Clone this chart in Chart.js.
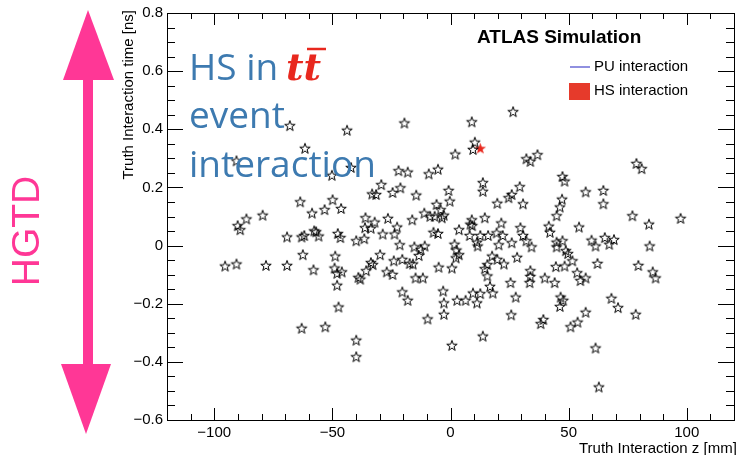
<!DOCTYPE html>
<html>
<head>
<meta charset="utf-8">
<script src="https://cdn.jsdelivr.net/npm/chart.js@4.4.1/dist/chart.umd.min.js"></script>
<style>
  body { margin: 0; overflow: hidden; background: #fff; }
</style>
</head>
<body>
<canvas id="vtx" width="741" height="455"></canvas>
<script>
// pile-up vertices (z in mm, t in ns)
const puZ = [
  -68.0, -43.8, -19.5, -61.6, -90.6, -42.1, -50.2, -22.0, -18.1, -9.2,
  -5.3, -29.3, -33.2, -31.5, -24.5, -21.2, -14.5, -63.6, -49.9, -53.3,
  -46.3, -58.6, -79.5, -86.4, -90.1, -89.0, -36.0, -32.1, -36.2, -33.7,
  -26.5, -22.6, -28.7, -23.7, -16.2, -11.1, -5.9, -4.2, -2.8, -6.7,
  -8.6, -3.6, -57.7, -56.9, -61.9, -63.0, -69.2, -55.8, -47.7, -46.6,
  -39.9, -36.5, -7.2, -5.3, -21.5, -15.3, -12.6, -10.9, -13.4, -62.5,
  -48.8, -29.8, -95.4, -90.6, -78.1, -69.2, -58.0, -49.1, -48.0, -46.0,
  -48.0, -33.7, -32.9, -39.0, -38.2, -35.7, -27.0, -24.5, -24.0, -20.4,
  -17.3, -15.9, -14.8, -11.7, -5.0, -20.4, -18.1, -3.1, -2.8, -2.8,
  -9.7, -47.4, -63.0, -53.0, -39.9, -39.9,
  26.5, 9.0, 10.3, 9.5, 2.0, 32.1, 33.8, 36.8, 78.7, 80.9,
  47.4, 48.3, 13.7, 13.7, -0.8, -0.3, 29.3, 25.9, 24.6, 30.7,
  19.8, 57.2, 64.7, 64.7, 47.2, 46.3, 44.9, 77.0, 84.0, 97.4,
  54.4, 41.6, 42.1, 14.5, 9.0, 8.4, 9.2, 3.6, 8.1, 12.6,
  15.9, 19.5, 21.5, 22.1, 11.2, 11.5, 20.4, 25.9, 29.6, 30.7,
  32.1, 34.3, 44.9, 47.4, 44.9, 48.8, 49.7, 59.7, 61.4, 65.3,
  67.2, 69.2, 84.3, 1.7, 2.5, 3.6, 2.3, 0.6, 17.6, 19.8,
  22.6, 15.6, 14.5, 15.6, 28.2, 16.7, 17.9, 9.5, 12.6, 11.2,
  6.4, 2.8, 25.4, 27.6, 25.7, 33.8, 33.8, 33.5, 39.9, 44.1,
  44.6, 48.3, 51.6, 53.6, 55.0, 57.2, 62.2, 79.5, 85.6, 86.8,
  46.6, 47.7, 46.3, 68.1, 70.9, 78.4, 57.2, 53.8, 50.8, 39.3,
  38.2, 13.7, 0.6, 61.4, 62.8
];
const puT = [
  0.411, 0.395, 0.420, 0.333, 0.290, 0.267, 0.240, 0.256, 0.251, 0.245,
  0.261, 0.208, 0.176, 0.174, 0.181, 0.197, 0.172, 0.149, 0.156, 0.122,
  0.126, 0.110, 0.103, 0.090, 0.067, 0.053, 0.094, 0.079, 0.060, 0.058,
  0.092, 0.062, 0.038, 0.038, 0.087, 0.110, 0.140, 0.122, 0.103, 0.099,
  0.099, 0.094, 0.049, 0.046, 0.033, 0.028, 0.028, 0.031, 0.040, 0.026,
  0.015, 0.022, 0.044, 0.040, 0.001, -0.006, -0.015, -0.003, -0.036, -0.033,
  -0.038, -0.033, -0.072, -0.065, -0.070, -0.070, -0.085, -0.079, -0.097, -0.092,
  -0.138, -0.060, -0.067, -0.111, -0.117, -0.088, -0.092, -0.101, -0.054, -0.049,
  -0.063, -0.065, -0.113, -0.113, -0.076, -0.161, -0.190, -0.158, -0.199, -0.238,
  -0.254, -0.213, -0.286, -0.281, -0.327, -0.384,
  0.459, 0.424, 0.354, 0.329, 0.313, 0.297, 0.288, 0.311, 0.281, 0.263,
  0.236, 0.220, 0.215, 0.185, 0.188, 0.151, 0.201, 0.174, 0.163, 0.142,
  0.144, 0.183, 0.188, 0.142, 0.158, 0.131, 0.101, 0.101, 0.072, 0.092,
  0.062, 0.065, 0.044, 0.094, 0.087, 0.072, 0.067, 0.053, 0.033, 0.033,
  0.033, 0.042, 0.076, 0.033, 0.010, -0.003, 0.001, 0.008, 0.060, 0.033,
  0.015, -0.006, 0.010, 0.015, -0.006, -0.019, -0.029, 0.017, -0.003, 0.026,
  0.003, 0.019, -0.003, 0.003, -0.017, -0.033, -0.044, -0.079, -0.038, -0.049,
  -0.065, -0.067, -0.081, -0.106, -0.042, -0.142, -0.165, -0.165, -0.167, -0.199,
  -0.190, -0.190, -0.129, -0.179, -0.240, -0.088, -0.108, -0.129, -0.113, -0.129,
  -0.074, -0.072, -0.054, -0.095, -0.122, -0.113, -0.063, -0.070, -0.092, -0.113,
  -0.179, -0.190, -0.211, -0.183, -0.215, -0.238, -0.231, -0.265, -0.281, -0.256,
  -0.270, -0.313, -0.345, -0.354, -0.488
];
// hard-scatter vertex
const hsZ = [12.6];
const hsT = [0.333];

// tick labels
const zTicks = [-100, -50, 0, 50, 100];
const tTicks = [-0.6, -0.4, -0.2, 0, 0.2, 0.4, 0.6, 0.8];

const FONT = "'Liberation Sans', Arial, sans-serif";

function makeStar(r, fill) {
  const c = document.createElement("canvas");
  const s = Math.ceil(r * 2 + 3);
  c.width = s;
  c.height = s;
  const g = c.getContext("2d");
  g.beginPath();
  for (let i = 0; i < 10; i++) {
    const rr = i % 2 === 0 ? r : r * 0.4;
    const a = -Math.PI / 2 + (i * Math.PI) / 5;
    const px = s / 2 + rr * Math.cos(a);
    const py = s / 2 + rr * Math.sin(a);
    if (i === 0) g.moveTo(px, py);
    else g.lineTo(px, py);
  }
  g.closePath();
  if (fill) {
    g.fillStyle = fill;
    g.fill();
  } else {
    g.strokeStyle = "#000";
    g.lineWidth = 1;
    g.stroke();
  }
  return c;
}

const minus = (s) => s.replace("-", "\u2212");

// ROOT-like frame, inner ticks and all the annotations
const decorations = {
  id: "decorations",
  afterDraw(chart) {
    const { ctx, chartArea: a, scales } = chart;
    const xs = scales.x, ys = scales.y;
    ctx.save();
    ctx.strokeStyle = "#000";
    ctx.lineWidth = 1;
    ctx.strokeRect(a.left + 0.5, a.top + 0.5, a.right - a.left, a.bottom - a.top);

    ctx.beginPath();
    for (let v = -110; v <= 110; v += 10) {
      const px = Math.round(xs.getPixelForValue(v)) + 0.5;
      const len = v % 50 === 0 ? 12 : 6;
      ctx.moveTo(px, a.bottom);
      ctx.lineTo(px, a.bottom - len);
      ctx.moveTo(px, a.top);
      ctx.lineTo(px, a.top + len);
    }
    for (let i = -12; i <= 16; i++) {
      const v = i * 0.05;
      const py = Math.round(ys.getPixelForValue(v)) + 0.5;
      const len = i % 4 === 0 ? 16 : 8;
      ctx.moveTo(a.left, py);
      ctx.lineTo(a.left + len, py);
      ctx.moveTo(a.right, py);
      ctx.lineTo(a.right - len, py);
    }
    ctx.stroke();

    // axis titles
    ctx.fillStyle = "#000";
    ctx.font = "15px " + FONT;
    ctx.textBaseline = "alphabetic";
    ctx.textAlign = "left";
    ctx.fillText("Truth Interaction z [mm]", 579, 453);
    ctx.save();
    ctx.translate(133, 10);
    ctx.rotate(-Math.PI / 2);
    ctx.textAlign = "right";
    ctx.fillText("Truth Interaction time [ns]", 0, 0);
    ctx.restore();

    // ATLAS label
    ctx.font = "bold 19px " + FONT;
    ctx.fillText("ATLAS Simulation", 477, 42.5);

    // legend
    ctx.font = "15px " + FONT;
    ctx.textBaseline = "middle";
    ctx.fillText("PU interaction", 594, 67);
    ctx.fillText("HS interaction", 594, 91);
    ctx.strokeStyle = "#6b6bd6";
    ctx.lineWidth = 1.5;
    ctx.beginPath();
    ctx.moveTo(570, 67);
    ctx.lineTo(590, 67);
    ctx.stroke();
    ctx.fillStyle = "#e63a2b";
    ctx.fillRect(569, 83, 21, 17);

    // "HS in tt event interaction" note
    ctx.textBaseline = "alphabetic";
    ctx.fillStyle = "#3d7ab0";
    ctx.font = "37px 'Open Sans', sans-serif";
    ctx.fillText("HS in", 189, 80);
    ctx.fillText("event", 189, 128);
    ctx.fillText("interaction", 189, 177);
    ctx.fillStyle = "#e8281e";
    ctx.font = "italic bold 38px 'DejaVu Serif', serif";
    ctx.fillText("tt", 286, 80);
    ctx.strokeStyle = "#e8281e";
    ctx.lineWidth = 2.5;
    ctx.beginPath();
    ctx.moveTo(307, 49);
    ctx.lineTo(326, 49);
    ctx.stroke();

    // HGTD arrow
    ctx.fillStyle = "#ff3796";
    ctx.fillRect(83, 76, 10, 292);
    ctx.beginPath();
    ctx.moveTo(88, 10);
    ctx.lineTo(63, 80);
    ctx.lineTo(114, 80);
    ctx.closePath();
    ctx.fill();
    ctx.beginPath();
    ctx.moveTo(61, 364);
    ctx.lineTo(111, 364);
    ctx.lineTo(86, 434);
    ctx.closePath();
    ctx.fill();
    ctx.save();
    ctx.translate(28, 231);
    ctx.rotate(-Math.PI / 2);
    ctx.font = "39px " + FONT;
    ctx.textAlign = "center";
    ctx.textBaseline = "middle";
    ctx.fillText("HGTD", 0, 0);
    ctx.restore();

    ctx.restore();
  },
};

const toXY = (zs, ts) => zs.map((z, i) => ({ x: z, y: ts[i] }));

new Chart(document.getElementById("vtx").getContext("2d"), {
  type: "scatter",
  data: {
    datasets: [
      {
        label: "PU interaction",
        data: toXY(puZ, puT),
        pointStyle: makeStar(5.5, null),
        pointRadius: 6,
      },
      {
        label: "HS interaction",
        data: toXY(hsZ, hsT),
        pointStyle: makeStar(6, "#e8281e"),
        pointRadius: 6,
      },
    ],
  },
  options: {
    responsive: false,
    animation: false,
    devicePixelRatio: 1,
    layout: { padding: { top: 10, right: 1, left: 0, bottom: 0 } },
    plugins: {
      legend: { display: false },
      tooltip: { enabled: false },
    },
    scales: {
      x: {
        type: "linear",
        min: -120,
        max: 120,
        grid: { display: false, drawTicks: false },
        border: { display: false },
        afterBuildTicks: (ax) => { ax.ticks = zTicks.map((v) => ({ value: v })); },
        afterFit: (ax) => { ax.height = 35; },
        ticks: {
          padding: 4,
          color: "#000",
          font: { family: FONT, size: 15 },
          callback: (v) => minus(String(v)),
        },
      },
      y: {
        type: "linear",
        min: -0.6,
        max: 0.8,
        grid: { display: false, drawTicks: false },
        border: { display: false },
        afterBuildTicks: (ax) => { ax.ticks = tTicks.map((v) => ({ value: v })); },
        afterFit: (ax) => { ax.width = 167; },
        ticks: {
          padding: 4,
          color: "#000",
          font: { family: FONT, size: 15 },
          callback: (v) => (v === 0 ? "0" : minus(v.toFixed(1))),
        },
      },
    },
  },
  plugins: [decorations],
});
</script>
</body>
</html>
